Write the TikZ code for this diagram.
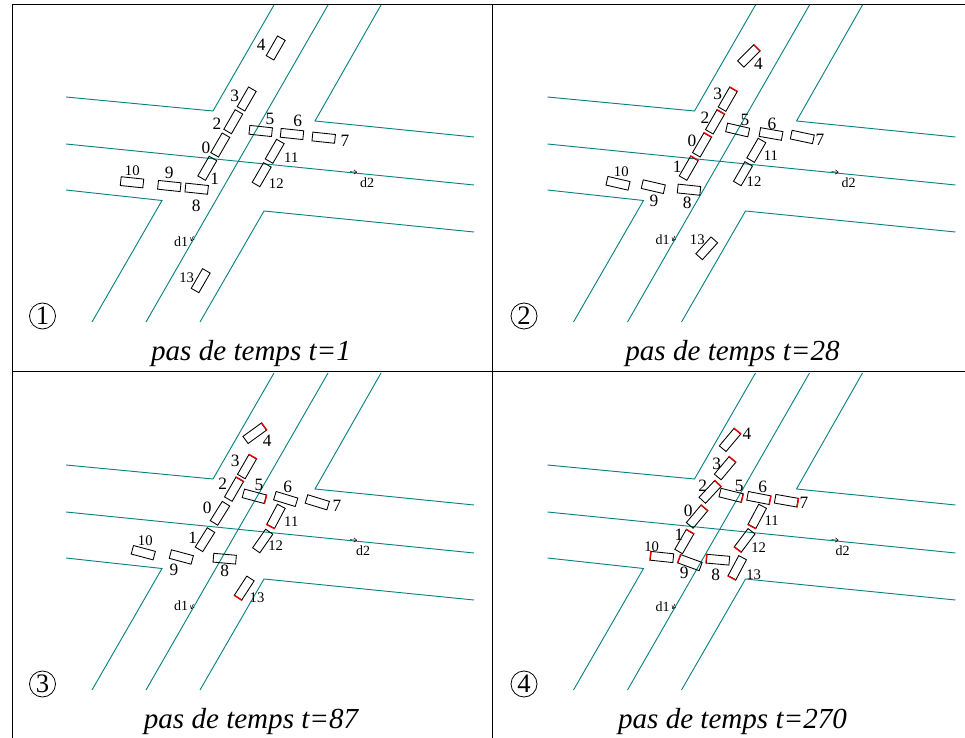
\documentclass[tikz,border=0pt]{standalone}
\usepackage{fontspec}
\setmainfont{Liberation Serif}
\usepackage{tikz}
\usetikzlibrary{arrows.meta}
\usepackage{xcolor}
\definecolor{roadcol}{RGB}{10,130,130}

\tikzset{
    road/.style={roadcol, line width=0.7pt},
    car/.style={draw, rectangle, rotate=#1, minimum width=17pt, minimum height=6.6pt, inner sep=0pt, line width=0.65pt},
    carnum/.style={font=\fontsize{13}{14}\selectfont, inner sep=0pt},
    carnumwide/.style={font=\fontsize{11}{12}\selectfont, inner sep=0pt},
    dirtag/.style={font=\fontsize{10.5}{11}\selectfont, inner sep=0pt},
    stepmark/.style={draw, circle, line width=0.6pt, minimum size=19.5pt, inner sep=0pt, font=\fontsize{20}{20}\selectfont},
    steptitle/.style={font=\fontsize{21.8}{24}\selectfont\itshape, inner sep=0pt, anchor=base}
}

% one crossing with its axes, in pixel coordinates of the first panel
\newcommand{\crossing}{
    \draw[road] (66,97) -- (213,111) -- (274,5);
    \draw[road] (66,144) -- (474,185);
    \draw[road] (146,322) -- (328,5);
    \draw[road] (381,5) -- (315,121) -- (474,137);
    \draw[road] (66,190) -- (162,200.5) -- (92,322);
    \draw[road] (474,232) -- (264,211) -- (200,322);
    \coordinate (d2a) at (350,171.6);
    \coordinate (d2b) at (357,172.3);
    \coordinate (d1a) at (193.5,236);
    \coordinate (d1b) at (191,241);
    \draw[-{To[length=2.5pt,width=3.5pt]}, line width=0.4pt] (d2a) -- (d2b);
    \draw[-{To[length=2.5pt,width=3.5pt]}, line width=0.4pt] (d1a) -- (d1b);
}

% a car with its number; the red end is always the east side
\newcommand{\carat}[8]{
    \node[car=#5] (car#1-#2) at (#3,#4) {};
    \ifnum#2>9
        \node[carnumwide] (num#1-#2) at (#6,#7) {#2};
    \else
        \node[carnum] (num#1-#2) at (#6,#7) {#2};
    \fi
    \ifnum#8=1
        \draw[red, line width=0.9pt] (car#1-#2.north east) -- (car#1-#2.south east);
    \fi
}

\begin{document}
\begin{tikzpicture}[x=0.75pt, y=-0.75pt]
    \useasboundingbox (0,0) rectangle (965,738);

    % frame
    \draw[line width=0.7pt] (12,4) -- (965,4);
    \draw[line width=0.7pt] (12,371) -- (965,371);
    \draw[line width=0.7pt] (12,4) -- (12,738);
    \draw[line width=0.7pt] (492.5,4) -- (492.5,738);

    % panel 1
    \begin{scope}
        \crossing
        \node[dirtag] (d2one) at (367,183) {d2};
        \node[dirtag] (d1one) at (181,242) {d1};
        \node[stepmark] (markone) at (42.5,316) {1};
        \node[steptitle] (titleone) at (251,360) {pas de temps t=1};
        \foreach \n/\cx/\cy/\ang/\lx/\ly/\hot in {
            0/220.3/145/60/206/147.7/0, 1/207.3/168.3/60/214.7/178.7/0,
            2/233.3/121.7/60/217/124/0, 3/246.7/99/60/234.7/96/0,
            4/275.7/48/60/261.3/44.7/0, 5/260.7/131/-6/270/119.3/0,
            6/292/134/-6/297.7/121.3/0, 7/323.7/137.7/-6/345/140.7/0,
            8/196.7/188.7/-6/196.3/205.7/0, 9/169.3/186/-6/169.3/172.7/0,
            10/132/182.3/-6/132.3/170.7/0, 11/274.7/151.3/60/291.3/158/0,
            12/261.7/174.7/60/276.3/183.3/0, 13/200.7/280.7/60/186.7/277.7/0} {
            \carat{a}{\n}{\cx}{\cy}{\ang}{\lx}{\ly}{\hot}
        }
    \end{scope}

    % panel 2
    \begin{scope}[shift={(481.5,0)}]
        \crossing
        \node[dirtag] (d2two) at (367,183) {d2};
        \node[dirtag] (d1two) at (181,240) {d1};
        \node[stepmark] (marktwo) at (42.5,316) {2};
        \node[steptitle] (titletwo) at (251,360) {pas de temps t=28};
        \foreach \n/\cx/\cy/\ang/\lx/\ly/\hot in {
            0/220.5/145/60/210.5/140.7/1, 1/207.2/168.3/60/195.8/166.7/1,
            2/233.5/122/60/223.5/117.7/1, 3/246.2/99.3/60/236.2/94.3/1,
            4/267.2/56/45/277/64/1, 5/256.2/130/-13/263.5/120/0,
            6/289.5/134/-10/290.5/124/0, 7/320.8/137/-12/338.5/140/0,
            8/207.5/189.7/-6/205.8/202.7/0, 9/171.8/186.7/-13/172.5/201.3/0,
            10/136.5/183.3/-13/139.8/172/0, 11/274.8/150.3/60/289.5/155.7/0,
            12/261.5/173.7/60/272.5/182/0, 13/225.2/248.3/48/215.8/240/0} {
            \carat{b}{\n}{\cx}{\cy}{\ang}{\lx}{\ly}{\hot}
        }
    \end{scope}

    % panel 3
    \begin{scope}[shift={(0,368)}]
        \crossing
        \node[dirtag] (d2three) at (363,183) {d2};
        \node[dirtag] (d1three) at (181,238) {d1};
        \node[stepmark] (markthree) at (42.5,316) {3};
        \node[steptitle] (titlethree) at (251,360) {pas de temps t=87};
        \foreach \n/\cx/\cy/\ang/\lx/\ly/\hot in {
            0/220/145.3/58/207.3/139.7/0, 1/205/171.7/58/192.7/169.7/0,
            2/234/121.3/60/222.7/116/1, 3/247/98.7/60/235.3/93.3/1,
            4/254.7/65.3/36/267.3/73/1, 5/254.3/128.3/-15/259/117.3/1,
            6/285.7/131/-17/287.7/119/0, 7/317.3/134.3/-17/337/138/0,
            8/224.7/190.7/-5/224.7/203.3/0, 9/181.3/189/-15/174/202/0,
            10/143.3/184.7/-15/145.3/172.3/0, 11/276/148.3/242/291.3/153.7/1,
            12/262.7/173/55/275.7/178/0, 13/244.3/220/237/257/229.7/1} {
            \carat{c}{\n}{\cx}{\cy}{\ang}{\lx}{\ly}{\hot}
        }
    \end{scope}

    % panel 4
    \begin{scope}[shift={(481.5,368)}]
        \crossing
        \node[dirtag] (d2four) at (361,183) {d2};
        \node[dirtag] (d1four) at (181,239) {d1};
        \node[stepmark] (markfour) at (42.5,316) {4};
        \node[steptitle] (titlefour) at (251,360) {pas de temps t=270};
        \foreach \n/\cx/\cy/\ang/\lx/\ly/\hot in {
            0/215.5/148.7/50/206.8/143.3/1, 1/202.8/173.7/60/197.5/166.3/1,
            2/228.5/124/47/221.2/117.7/1, 3/243.5/100.3/50/235.2/96.3/1,
            4/248.5/72/50/265.5/65.7/1, 5/249.5/127.3/-14/257.8/118/1,
            6/277.2/130/-11/281.2/119/1, 7/304.8/132.7/-10/322.5/135.3/1,
            8/236.5/191.7/175/234.2/206.7/1, 9/208.5/194.7/160/202.8/205.3/1,
            10/180.5/189/174/170.2/179/1, 11/275.8/148.3/242/290.2/152.3/1,
            12/263.2/172.3/233/277.2/180/1, 13/255.8/199.7/242/272.2/206.7/1} {
            \carat{d}{\n}{\cx}{\cy}{\ang}{\lx}{\ly}{\hot}
        }
    \end{scope}
\end{tikzpicture}
\end{document}
